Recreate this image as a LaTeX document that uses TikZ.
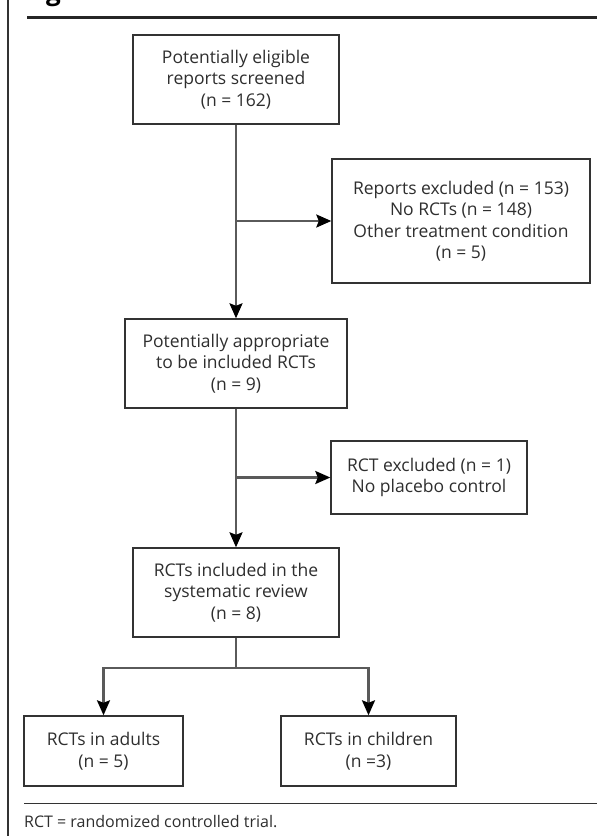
\documentclass[tikz,border=0pt]{standalone}
\usepackage{fontspec}
\setmainfont{Open Sans}
\usepackage{xcolor}
\usepackage{tikz}
\usetikzlibrary{arrows.meta, positioning}
\definecolor{lineagris}{HTML}{5A5A5A}
\definecolor{bordegris}{HTML}{333333}
\definecolor{textogris}{HTML}{2E2E2E}
\tikzset{
  caja/.style={draw=bordegris, line width=1.4pt, align=center, text=textogris,
    font=\fontsize{17.5}{21.5}\selectfont, inner sep=3pt},
  flecha/.style={draw=lineagris, line width=2.2pt,
    -{Stealth[length=15pt, width=13pt, inset=2.5pt, black]}},
  linea/.style={draw=lineagris, line width=2.2pt},
}

\begin{document}
\begin{tikzpicture}[x=1pt, y=-1pt]
            \useasboundingbox (0,0) rectangle (597,838);

            % marco y titulo cortado
            \node[font=\bfseries\fontsize{26}{30}\selectfont, anchor=base west, inner sep=0pt] (titulo) at (46,0) {g};
            \draw[line width=1.2pt, bordegris] (8,0) -- (8,836);
            \draw[line width=3pt, black!85] (27,17) -- (597,17);

            % cajas principales
            \node[caja, minimum width=206pt, minimum height=89pt] (scr) at (236,79.5)
              {Potentially eligible\\reports screened\\(n = 162)};
            \node[caja, minimum width=258pt, minimum height=124pt] (exc1) at (461,221)
              {Reports excluded (n = 153)\\No RCTs (n = 148)\\Other treatment condition\\(n = 5)};
            \node[caja, minimum width=222pt, minimum height=89pt] (appr) at (236,363.5)
              {Potentially appropriate\\to be included RCTs\\(n = 9)};
            \node[caja, minimum width=196pt, minimum height=73pt] (exc2) at (429,477.5)
              {RCT excluded (n = 1)\\No placebo control};
            \node[caja, minimum width=206pt, minimum height=89pt] (incl) at (236,592.5)
              {RCTs included in the\\systematic review\\(n = 8)};

            % subgrupos
            \node[caja, minimum width=159pt, minimum height=70pt] (adul) at (103.5,751)
              {RCTs in adults\\(n = 5)};
            \node[caja, minimum width=175pt, minimum height=70pt] (ninos) at (368.5,751)
              {RCTs in children\\(n =3)};

            % conectores
            \coordinate (b1) at (scr.south |- exc1.west);
            \coordinate (b2) at (appr.south |- exc2.west);
            \coordinate (split) at (236,668);
            \draw[flecha] (scr.south) -- (appr.north);
            \draw[flecha] (b1) -- (exc1.west);
            \draw[flecha] (appr.south) -- (incl.north);
            \draw[flecha] (b2) -- (exc2.west);
            \draw[linea] (incl.south) -- (split);
            \draw[flecha] (split) -| (adul.north);
            \draw[flecha] (split) -| (ninos.north);

            % pie
            \draw[line width=1pt, bordegris] (24,803) -- (597,803);
            \node[anchor=west, inner sep=0pt, text=textogris, font=\fontsize{16}{19}\selectfont] (nota) at (24,822)
              {RCT = randomized controlled trial.};
        \end{tikzpicture}
\end{document}
